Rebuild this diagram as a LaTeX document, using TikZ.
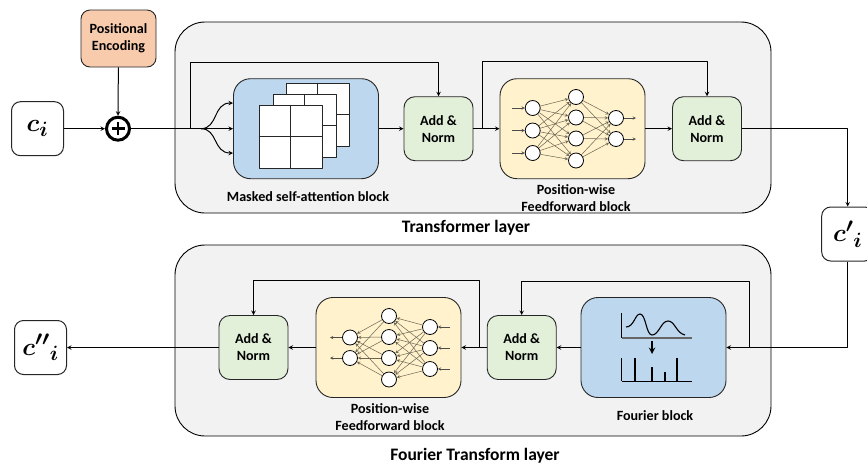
\documentclass[tikz,border=0pt]{standalone}
\usepackage{fontspec}
\setmainfont{Carlito}
\definecolor{layergray}{HTML}{F2F2F2}
\definecolor{blockblue}{HTML}{BDD7EE}
\definecolor{blockyellow}{HTML}{FFF2CC}
\definecolor{addgreen}{HTML}{E2F0D9}
\definecolor{peach}{HTML}{F8CBAD}
\definecolor{nnline}{HTML}{6B6552}
\tikzset{
  layerbox/.style={draw,fill=layergray,rounded corners=30pt,minimum width=596pt,minimum height=191pt,line width=0.9pt},
  blockbox/.style={draw=black!85,rounded corners=17pt,minimum width=145pt,minimum height=100pt,line width=0.9pt},
  addnorm/.style={draw=black!85,fill=addgreen,rounded corners=11pt,minimum width=69pt,minimum height=64pt,line width=0.9pt,align=center,font=\labelfont,inner sep=0pt},
  symbox/.style={draw=black!85,fill=white,rounded corners=9pt,minimum width=52pt,minimum height=54pt,line width=1pt,inner sep=0pt},
  sheet/.style={draw=black!85,fill=white,minimum size=63pt,line width=0.9pt,inner sep=0pt},
  neuron/.style={draw=black,fill=white,circle,minimum size=15pt,inner sep=0pt,line width=0.8pt},
  nnedge/.style={draw=nnline,line width=0.5pt,->},
  stub/.style={draw=black!70,line width=0.5pt,->},
  labeltext/.style={align=center,font=\labelfont,inner sep=0pt},
  conn/.style={line width=1pt,->}
}
\newcommand{\labelfont}{\fontsize{14.1}{17}\selectfont\bfseries}
\newcommand{\layerfont}{\fontsize{17.5}{20}\selectfont\bfseries}
\newcommand{\symtext}[1]{{\Huge\boldmath$#1$}}
\begin{document}
\begin{tikzpicture}[>=stealth,x=1pt,y=-1pt,line join=round]
  \useasboundingbox (0,0) rectangle (867,464);
  % layers
  \node[layerbox] (trlayer) at (473,117.5) {};
  \node[layerbox] (ftlayer) at (473,340.5) {};
  \node[labeltext,font=\layerfont] (trname) at (466,228) {Transformer layer};
  \node[labeltext,font=\layerfont] (ftname) at (475,456) {Fourier Transform layer};
  % input side
  \node[symbox] (ci) at (37.5,128.7) {\symtext{c_i}};
  \node[draw=black!85,fill=peach,rounded corners=9pt,minimum width=75pt,minimum height=57pt,line width=0.9pt,labeltext] (pe) at (118.5,38.5) {Positional\\Encoding};
  \node[draw,circle,line width=3pt,fill=white,minimum size=23pt,inner sep=0pt] (plus) at (118,128.7) {};
  \draw[line width=2.6pt] ([xshift=-6.5pt]plus.center) -- ([xshift=6.5pt]plus.center);
  \draw[line width=2.6pt] ([yshift=-6.5pt]plus.center) -- ([yshift=6.5pt]plus.center);
  % transformer row
  \node[blockbox,fill=blockblue] (masked) at (306,128.7) {};
  \foreach \s/\x/\y in {c/317.5/114.5,b/304.5/125.5,a/290.5/136.5} {
    \node[sheet] (sheet\s) at (\x,\y) {};
    \draw[line width=0.9pt,black!85] (sheet\s.north) -- (sheet\s.south);
    \draw[line width=0.9pt,black!85] (sheet\s.west) -- (sheet\s.east);
  }
  \node[addnorm] (addone) at (438.5,128.7) {Add \&\\Norm};
  \node[blockbox,fill=blockyellow] (ffa) at (572.5,128.7) {};
  \node[addnorm] (addtwo) at (707,128.7) {Add \&\\Norm};
  \node[labeltext] (maskedname) at (308,197) {Masked self-attention block};
  \node[labeltext] (ffaname) at (576,198) {Position-wise\\Feedforward block};
  % network of the upper block
  \foreach \i/\y in {1/108,2/130.5,3/153} {
    \node[neuron] (fa\i) at (532.7,\y) {};
    \coordinate (fain\i) at (512,\y);
    \draw[stub] (fain\i) -- (fa\i);
  }
  \foreach \i/\y in {1/97,2/117.5,3/138.5,4/160.5}
    \node[neuron] (fb\i) at (576,\y) {};
  \foreach \i/\y in {1/118,2/139} {
    \node[neuron] (fc\i) at (616,\y) {};
    \coordinate (fcout\i) at (636,\y);
    \draw[stub] (fc\i) -- (fcout\i);
  }
  \foreach \i in {1,2,3}
    \foreach \j in {1,2,3,4}
      \draw[nnedge] (fa\i) -- (fb\j);
  \foreach \i in {1,2,3,4}
    \foreach \j in {1,2}
      \draw[nnedge] (fb\i) -- (fc\j);
  % output of transformer
  \node[symbox] (cp) at (847.7,234) {\symtext{{c'}_i}};
  % fourier row
  \node[blockbox,fill=blockblue] (fourier) at (653.5,347.5) {};
  \node[addnorm] (addfour) at (521.7,347.5) {Add \&\\Norm};
  \node[blockbox,fill=blockyellow] (ffb) at (388.5,347.5) {};
  \node[addnorm] (addthree) at (253.5,347.5) {Add \&\\Norm};
  \node[symbox] (cpp) at (40.5,347.5) {\symtext{{c''}_i}};
  \node[labeltext] (fouriername) at (655,416) {Fourier block};
  \node[labeltext] (ffbname) at (390,417) {Position-wise\\Feedforward block};
  % fourier icon
  \draw[line width=0.8pt] (621.5,313) -- (621.5,338);
  \draw[line width=1.6pt,black!60] (621.5,338) -- (692,338);
  \draw[line width=1.1pt] (626,327) .. controls (634,327) and (635,314) .. (640,314)
     .. controls (646,314) and (646,335) .. (652,335)
     .. controls (659,335) and (661,321) .. (668,321)
     .. controls (675,321) and (676,333) .. (685,335);
  \draw[line width=1.8pt,->] (652,341) -- (652,354);
  \draw[line width=0.8pt] (621.5,358) -- (621.5,381);
  \draw[line width=0.8pt] (621.5,381) -- (692,381);
  \foreach \x/\y in {635/358,652/367,665/372,677/358}
    \draw[line width=1.1pt] (\x,\y) -- (\x,381);
  % network of the lower block
  \foreach \i/\y in {1/327,2/348,3/369} {
    \node[neuron] (gc\i) at (430,\y) {};
    \coordinate (gcin\i) at (450,\y);
    \draw[stub] (gcin\i) -- (gc\i);
  }
  \foreach \i/\y in {1/316,2/337,3/358,4/379.5}
    \node[neuron] (gb\i) at (389,\y) {};
  \foreach \i/\y in {1/337.5,2/358} {
    \node[neuron] (ga\i) at (350,\y) {};
    \coordinate (gaout\i) at (330,\y);
    \draw[stub] (ga\i) -- (gaout\i);
  }
  \foreach \i in {1,2,3}
    \foreach \j in {1,2,3,4}
      \draw[nnedge] (gc\i) -- (gb\j);
  \foreach \i in {1,2,3,4}
    \foreach \j in {1,2}
      \draw[nnedge] (gb\i) -- (ga\j);
  % connectors
  \draw[conn] (ci) -- (plus);
  \draw[conn] (pe) -- (plus);
  \draw[conn] (plus) -- (masked);
  \coordinate (fan) at (201,128.7);
  \coordinate (mtop) at (233,103);
  \coordinate (mbot) at (233,153);
  \draw[conn] (fan) .. controls (218,128.7) and (213,103) .. (mtop);
  \draw[conn] (fan) .. controls (218,128.7) and (213,153) .. (mbot);
  \coordinate (skipa) at (190.5,128.7);
  \coordinate (skipatop) at (190.5,62);
  \draw[conn] (skipa) -- (skipatop) -| (addone.north);
  \draw[conn] (masked) -- (addone);
  \draw[conn] (addone) -- (ffa);
  \coordinate (skipb) at (482,128.7);
  \coordinate (skipbtop) at (482,61);
  \draw[conn] (skipb) -- (skipbtop) -| (addtwo.north);
  \draw[conn] (ffa) -- (addtwo);
  \draw[conn] (addtwo.east) -| (cp.north);
  \draw[conn] (cp.south) |- (fourier.east);
  \coordinate (skipc) at (749,347.5);
  \coordinate (skipctop) at (749,281);
  \draw[conn] (skipc) -- (skipctop) -| (addfour.north);
  \draw[conn] (fourier) -- (addfour);
  \coordinate (skipd) at (479,347.5);
  \coordinate (skipdtop) at (479,280);
  \draw[conn] (skipd) -- (skipdtop) -| (addthree.north);
  \draw[conn] (addfour) -- (ffb);
  \draw[conn] (ffb) -- (addthree);
  \draw[conn] (addthree) -- (cpp);
\end{tikzpicture}
\end{document}
